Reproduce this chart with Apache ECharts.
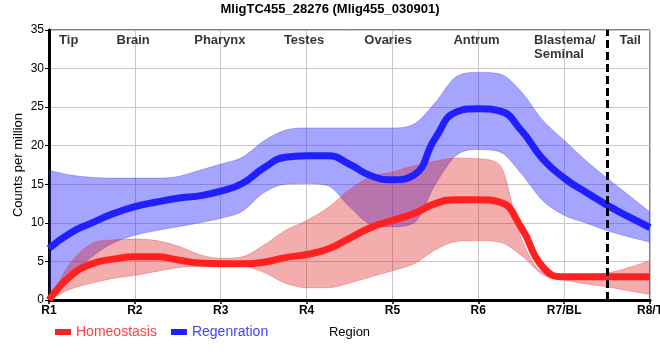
<!DOCTYPE html>
<html>
<head>
<meta charset="utf-8">
<script src="https://cdn.jsdelivr.net/npm/echarts@6/dist/echarts.min.js"></script>
<style>
html,body{margin:0;padding:0;background:#fff;}
#c{width:660px;height:360px;}
</style>
</head>
<body>
<div id="c"></div>
<script>
// ---- data ----
const xs = [1,1.25,1.5,1.75,2,2.25,2.5,2.75,3,3.25,3.5,3.75,4,4.25,4.5,4.75,5,5.25,5.5,5.75,6,6.25,6.5,6.75,7,7.25,7.5,7.75,8];
const tickLabels = ['R1','R2','R3','R4','R5','R6','R7/BL','R8/T'];

const regenMean  = [6.7,8.7,10.0,11.2,12.1,12.7,13.2,13.5,14.1,15.1,17.1,18.5,18.7,18.7,17.6,16.1,15.6,16.2,21.0,24.4,24.8,24.5,22.0,18.3,15.8,14.0,12.3,10.8,9.4];
const regenUpper = [16.8,16.2,15.9,15.8,15.8,15.8,16.0,16.8,17.6,18.5,20.6,22.0,22.3,22.3,22.3,22.3,22.3,22.8,25.6,29.0,29.5,29.3,27.0,23.3,20.7,18.1,15.8,13.6,11.4];
const regenLower = [0.3,3.0,5.6,7.4,8.4,9.0,9.5,10.0,10.6,11.5,13.9,15.0,15.1,14.8,12.1,9.8,9.5,10.0,15.0,18.8,19.5,19.2,16.4,12.9,11.0,10.0,9.0,8.2,7.5];

const homeoMean  = [0,3.1,4.7,5.3,5.6,5.6,5.2,4.8,4.7,4.7,4.9,5.5,5.9,6.6,8.0,9.4,10.3,11.2,12.5,13.0,13.0,12.7,9.4,4.3,3.0,3.0,3.0,3.0,3.0];
const homeoUpper = [0,4.8,7.3,7.8,7.9,7.7,7.0,5.9,5.4,5.6,7.1,9.0,10.3,12.0,14.3,16.0,16.6,17.4,18.0,18.4,18.3,17.5,8.0,3.6,3.2,3.3,3.5,4.2,5.1];
const homeoLower = [0,1.4,2.2,2.8,3.2,3.7,4.2,4.4,4.5,4.4,3.6,2.2,1.6,1.6,2.2,3.0,3.8,4.7,6.5,7.6,7.7,7.5,5.8,3.3,2.6,2.1,1.7,1.2,0.7];

const regionNames = ['Tip','Brain','Pharynx','Testes','Ovaries','Antrum','Blastema/\nSeminal','Tail'];
const regionX     = [1.23,1.98,2.99,3.97,4.95,5.98,6.65,7.77];
const regionY     = [33.7,33.7,33.7,33.7,33.7,33.7,32.8,33.7];
const tailBoundary = 7.5;

// ---- build ----
const pairs = (a) => xs.map((x,i)=>[x,a[i]]);

const FONT = '"Liberation Sans", Arial, sans-serif';
const RED = '#ff2020', BLUE = '#2020ff';
const RED_BAND = 'rgba(220,20,20,0.35)', BLUE_BAND = 'rgba(40,40,255,0.42)';

// monotone cubic (Fritsch-Carlson) sampling in pixel space
function monoSample(pts){
  const n = pts.length, d = [], m = new Array(n);
  for (let i=0;i<n-1;i++){ const dx = pts[i+1][0]-pts[i][0]; d.push(dx===0?0:(pts[i+1][1]-pts[i][1])/dx); }
  m[0]=d[0]; m[n-1]=d[n-2];
  for (let i=1;i<n-1;i++){ m[i] = (d[i-1]*d[i] <= 0) ? 0 : (d[i-1]+d[i])/2; }
  for (let i=0;i<n-1;i++){
    if (d[i]===0){ m[i]=0; m[i+1]=0; continue; }
    const a=m[i]/d[i], b=m[i+1]/d[i], s=a*a+b*b;
    if (s>9){ const t=3/Math.sqrt(s); m[i]=t*a*d[i]; m[i+1]=t*b*d[i]; }
  }
  const out=[];
  const STEPS=12;
  for (let i=0;i<n-1;i++){
    const x0=pts[i][0], x1=pts[i+1][0], y0=pts[i][1], y1=pts[i+1][1], h=x1-x0;
    for (let k=0;k<STEPS;k++){
      const t=k/STEPS, t2=t*t, t3=t2*t;
      const h00=2*t3-3*t2+1, h10=t3-2*t2+t, h01=-2*t3+3*t2, h11=t3-t2;
      out.push([x0+h*t, h00*y0+h10*h*m[i]+h01*y1+h11*h*m[i+1]]);
    }
  }
  out.push(pts[n-1]);
  return out;
}

function bandSeries(name, lower, upper, fill, edge, z){
  return {name:name, type:'custom', data:[0], silent:true, z:z, clip:true,
    renderItem:(params, api)=>{
      const up = monoSample(xs.map((x,i)=>api.coord([x, upper[i]])));
      const lo = monoSample(xs.map((x,i)=>api.coord([x, lower[i]])));
      const poly = up.concat(lo.slice().reverse());
      return {type:'group', children:[
        {type:'polygon', shape:{points:poly}, style:{fill:fill, stroke:null}},
        {type:'polyline', shape:{points:up}, style:{fill:null, stroke:edge, lineWidth:1}},
        {type:'polyline', shape:{points:lo}, style:{fill:null, stroke:edge, lineWidth:1}}
      ]};
    }};
}

const chart = echarts.init(document.getElementById('c'), null, {renderer:'canvas'});
chart.setOption({
  animation:false,
  textStyle:{fontFamily:FONT},
  title:{text:'MligTC455_28276 (Mlig455_030901)', left:'center', top:-2,
    textStyle:{fontFamily:FONT,fontSize:13,fontWeight:'bold',color:'#000'}},
  legend:{left:50, top:320, itemWidth:16, itemHeight:6, itemGap:14, icon:'rect',
    data:[{name:'Homeostasis', textStyle:{color:'#ff4040'}},{name:'Regenration', textStyle:{color:'#4040ff'}}],
    textStyle:{fontFamily:FONT,fontSize:14}, selectedMode:false},
  grid:{left:49, right:10, top:30, bottom:60, show:true, borderColor:'#000', borderWidth:1,
    outerBoundsMode:'none', containLabel:false},
  xAxis:{type:'value', min:1, max:8, interval:1,
    name:'Region', nameLocation:'middle', nameGap:26, nameMoveOverlap:false,
    nameTextStyle:{fontFamily:FONT,fontSize:13,color:'#000'},
    axisLine:{show:true,onZero:false,lineStyle:{color:'#000',width:3}},
    axisTick:{show:true,length:4,lineStyle:{color:'#000',width:1.5}},
    axisLabel:{fontFamily:FONT,fontSize:12,fontWeight:'bold',color:'#000',margin:5,
      formatter:(v)=>tickLabels[Math.round(v)-1]||''},
    splitLine:{show:true,lineStyle:{color:'#c8c8c8',width:1}}},
  yAxis:{type:'value', min:0, max:35, interval:5,
    name:'Counts per million', nameLocation:'middle', nameGap:24, nameMoveOverlap:false,
    nameTextStyle:{fontFamily:FONT,fontSize:13,color:'#000'},
    axisLine:{show:true,lineStyle:{color:'#000',width:3}},
    axisTick:{show:true,length:4,lineStyle:{color:'#000',width:1}},
    axisLabel:{fontFamily:FONT,fontSize:12,color:'#000',margin:5},
    splitLine:{show:true,lineStyle:{color:'#c8c8c8',width:1}}},
  series:[
    bandSeries('rb', regenLower, regenUpper, BLUE_BAND, 'rgba(60,60,230,0.35)', 1),
    bandSeries('hb', homeoLower, homeoUpper, RED_BAND, 'rgba(220,60,60,0.35)', 2),
    {name:'Homeostasis', type:'line', data:pairs(homeoMean), smooth:0.5, symbol:'none',
      lineStyle:{width:7,color:RED}, itemStyle:{color:RED}, z:3},
    {name:'Regenration', type:'line', data:pairs(regenMean), smooth:0.5, symbol:'none',
      lineStyle:{width:7,color:BLUE}, itemStyle:{color:BLUE}, z:3,
      markLine:{silent:true, symbol:'none', label:{show:false},
        lineStyle:{color:'#000',width:3,type:[8,4]},
        data:[{xAxis:tailBoundary}]}},
    {name:'regions', type:'scatter', symbolSize:1, itemStyle:{color:'transparent'}, silent:true, z:5,
      data: regionNames.map((n,i)=>({value:[regionX[i],regionY[i]], name:n,
        label:{align: n.indexOf('\n')>=0 ? 'left':'center'}})),
      label:{show:true, position:'inside', formatter:(p)=>p.name, fontFamily:FONT, fontSize:13,
        fontWeight:'bold', color:'#000', lineHeight:14, verticalAlign:'middle'}}
  ]
});
</script>
</body>
</html>
